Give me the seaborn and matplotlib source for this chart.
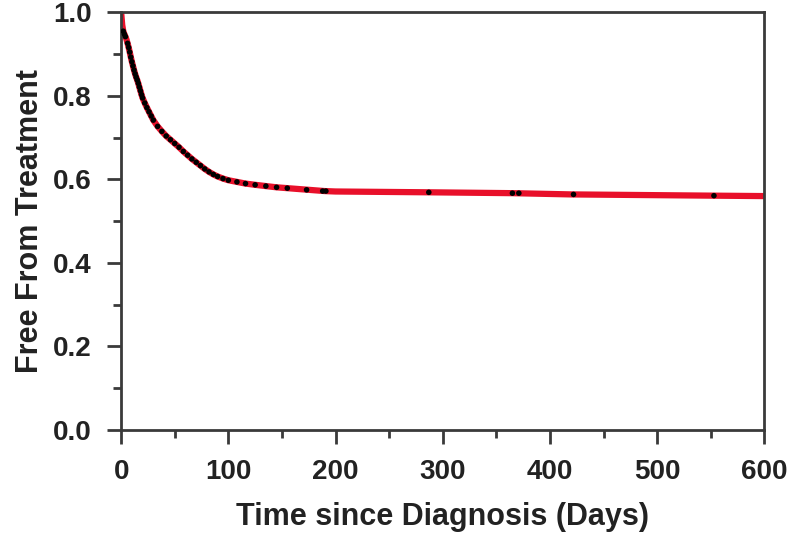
import numpy as np
import pandas as pd
import matplotlib
matplotlib.use('Agg')
import matplotlib.pyplot as plt
from matplotlib.ticker import MultipleLocator, FormatStrFormatter
import seaborn as sns

# Survival curve
days = [0, 1, 2, 3, 4, 5, 6, 7, 8, 9, 10, 11, 12, 13, 14, 15, 16, 17, 18, 19, 20,
        22, 24, 26, 28, 30, 34, 38, 42, 46, 50, 54, 58, 62, 66, 70, 74, 78,
        82, 86, 90, 95, 100, 108, 116, 125, 135, 145, 155, 165, 175, 190,
        200, 290, 365, 420, 553, 600]
surv = [1.0, 0.97, 0.955, 0.948, 0.942, 0.935, 0.926, 0.916, 0.905, 0.893,
        0.882, 0.872, 0.862, 0.853, 0.845, 0.838, 0.83, 0.821, 0.812, 0.803,
        0.795, 0.783, 0.772, 0.762, 0.752, 0.742, 0.727, 0.715, 0.704, 0.695,
        0.686, 0.677, 0.667, 0.658, 0.649, 0.641, 0.633, 0.625, 0.618, 0.612,
        0.607, 0.602, 0.598, 0.594, 0.59, 0.587, 0.584, 0.581, 0.579, 0.577,
        0.575, 0.572, 0.571, 0.569, 0.567, 0.564, 0.561, 0.560]

# Censor marks (black dots)
cens_days = [2, 3, 4, 6, 7, 8, 9, 10, 11, 12, 13, 14, 15, 16, 17, 18, 19, 20,
             22, 24, 26, 28, 30, 34, 38, 42, 46, 50, 54, 58, 62, 66, 70, 74,
             78, 82, 86, 90, 95, 100, 108, 116, 125, 135, 145, 155, 173, 188,
             191, 287, 365, 371, 422, 553]
cens_surv = [0.955, 0.948, 0.942, 0.926, 0.916, 0.905, 0.893, 0.882, 0.872,
             0.862, 0.853, 0.845, 0.838, 0.83, 0.821, 0.812, 0.803, 0.795,
             0.783, 0.772, 0.762, 0.752, 0.742, 0.727, 0.715, 0.704, 0.695,
             0.686, 0.677, 0.667, 0.658, 0.649, 0.641, 0.633, 0.625, 0.618,
             0.612, 0.607, 0.602, 0.598, 0.594, 0.59, 0.587, 0.584, 0.581,
             0.579, 0.575, 0.572, 0.572, 0.569, 0.567, 0.567, 0.564, 0.561]

curve_df = pd.DataFrame({'Days': days, 'Surv': surv})
cens_df = pd.DataFrame({'Days': cens_days, 'Surv': cens_surv})

sns.set_style('ticks')
plt.rcParams['font.family'] = ['Liberation Sans', 'DejaVu Sans']

fig = plt.figure(figsize=(7.97, 5.40), dpi=100)
ax = fig.add_axes([0.152, 0.204, 0.807, 0.773])

sns.lineplot(data=curve_df, x='Days', y='Surv', color='#e8102a', linewidth=4.5, ax=ax)
sns.scatterplot(data=cens_df, x='Days', y='Surv', color='black', s=16,
                edgecolor='none', ax=ax, zorder=3)

ax.set_xlim(0, 600)
ax.set_ylim(0, 1.0)
ax.xaxis.set_major_locator(MultipleLocator(100))
ax.xaxis.set_minor_locator(MultipleLocator(50))
ax.yaxis.set_major_locator(MultipleLocator(0.2))
ax.yaxis.set_minor_locator(MultipleLocator(0.1))
ax.yaxis.set_major_formatter(FormatStrFormatter('%.1f'))

for s in ax.spines.values():
    s.set_visible(True)
    s.set_color('#3a3a3a')
    s.set_linewidth(2)

ax.tick_params(which='major', length=10, width=2, color='#3a3a3a',
               labelsize=20, pad=11)
ax.tick_params(which='minor', length=6, width=2, color='#3a3a3a')
for lab in ax.get_xticklabels() + ax.get_yticklabels():
    lab.set_fontweight('bold')
    lab.set_color('#222222')

ax.set_xlabel('Time since Diagnosis (Days)', fontsize=22, fontweight='bold',
              color='#222222', labelpad=12)
ax.set_ylabel('Free From Treatment', fontsize=22, fontweight='bold',
              color='#222222', labelpad=6)

fig.savefig('out.png', dpi=100)
